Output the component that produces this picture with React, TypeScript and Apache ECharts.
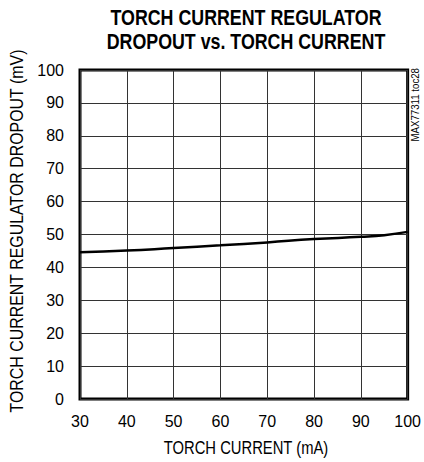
import React, { useEffect, useRef } from "react";
import * as echarts from "echarts";

const currentMA = [30, 40, 50, 60, 70, 80, 90, 95, 100];
const dropoutMV = [44.6, 45.1, 45.9, 46.7, 47.6, 48.6, 49.3, 49.8, 50.8];
const xTicks = { min: 30, max: 100, interval: 10 };
const yTicks = { min: 0, max: 100, interval: 10 };
const titleLines = ["TORCH CURRENT REGULATOR", "DROPOUT vs. TORCH CURRENT"];
const xName = "TORCH CURRENT (mA)";
const yName = "TORCH CURRENT REGULATOR DROPOUT (mV)";
const sideNote = "MAX77311 toc28";

const FONT = "'Liberation Sans', Arial, sans-serif";

export default function App() {
  const ref = useRef<HTMLDivElement>(null);
  useEffect(() => {
    if (!ref.current) return;
    const chart = echarts.init(ref.current, null, { renderer: "svg" });
    const txt = (text: string, x: number, y: number, fontSize: number, scaleX: number, extra: any = {}) => ({
      type: "text",
      x,
      y,
      scaleX,
      style: {
        text,
        fontFamily: FONT,
        fontSize,
        fill: "#000",
        align: "center",
        verticalAlign: "middle",
        ...(extra.style || {}),
      },
      ...(extra.rotation !== undefined ? { rotation: extra.rotation } : {}),
    });
    chart.setOption({
      animation: false,
      backgroundColor: "#fff",
      textStyle: { fontFamily: FONT },
      grid: {
        left: 80,
        right: 13,
        top: 70,
        bottom: 63,
        show: true,
        borderColor: "#000",
        borderWidth: 3,
        backgroundColor: "transparent",
      },
      xAxis: {
        type: "value",
        min: xTicks.min,
        max: xTicks.max,
        interval: xTicks.interval,
        axisLine: { show: false },
        axisTick: { show: false },
        axisLabel: { fontFamily: FONT, fontSize: 16, color: "#000", margin: 14 },
        splitLine: { show: true, lineStyle: { color: "#333", width: 1 } },
      },
      yAxis: {
        type: "value",
        min: yTicks.min,
        max: yTicks.max,
        interval: yTicks.interval,
        axisLine: { show: false },
        axisTick: { show: false },
        axisLabel: { fontFamily: FONT, fontSize: 16, color: "#000", margin: 16 },
        splitLine: { show: true, lineStyle: { color: "#333", width: 1 } },
      },
      graphic: [
        txt(titleLines[0], 246, 17, 22, 0.81, { style: { fontWeight: "bold" } }),
        txt(titleLines[1], 246, 41, 22, 0.81, { style: { fontWeight: "bold" } }),
        txt(xName, 246, 448, 17.5, 0.845),
        txt(yName, 17, 231, 18, 0.885, { rotation: Math.PI / 2 }),
        {
          type: "text",
          x: 415,
          y: 68,
          rotation: Math.PI / 2,
          scaleX: 0.88,
          style: {
            text: sideNote,
            fontFamily: FONT,
            fontSize: 11,
            fill: "#000",
            align: "right",
            verticalAlign: "middle",
          },
        },
      ],
      series: [
        {
          type: "line",
          data: currentMA.map((x, i) => [x, dropoutMV[i]]),
          showSymbol: false,
          smooth: true,
          lineStyle: { color: "#000", width: 2.5 },
        },
      ],
    });
    return () => chart.dispose();
  }, []);
  return <div ref={ref} style={{ width: 424, height: 462, position: "absolute", left: 0, top: 0 }} />;
}
